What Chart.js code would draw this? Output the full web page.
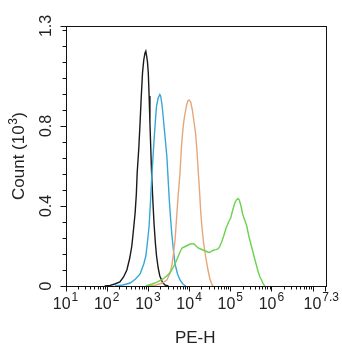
<!DOCTYPE html>
<html>
<head>
<meta charset="utf-8">
<script src="https://cdn.jsdelivr.net/npm/chart.js@4/dist/chart.umd.min.js"></script>
<style>
html,body{margin:0;padding:0;background:#fff;}
#wrap{width:342px;height:350px;}
</style>
</head>
<body>
<div id="wrap"><canvas id="c" width="342" height="350"></canvas></div>
<script>
// x values are log10(PE-H), y values are counts in 10^3
const blackX = [1.95,2.08,2.20,2.32,2.41,2.49,2.56,2.61,2.65,2.69,2.72,2.74,2.78,2.81,2.84,2.87,2.90,2.93,2.95,2.97,2.99,3.01,3.03,3.05,3.07,3.09,3.12,3.15,3.18,3.21,3.25,3.29,3.35,3.41,3.50];
const blackY = [0,0.003,0.01,0.02,0.045,0.08,0.14,0.20,0.28,0.365,0.46,0.565,0.69,0.815,0.95,1.066,1.13,1.165,1.174,1.15,1.12,1.066,0.95,0.815,0.69,0.565,0.43,0.31,0.22,0.15,0.09,0.05,0.02,0.005,0];

const blueX = [2.20,2.40,2.57,2.70,2.81,2.90,2.95,2.99,3.03,3.06,3.09,3.12,3.15,3.18,3.21,3.25,3.29,3.31,3.34,3.37,3.41,3.46,3.49,3.52,3.55,3.58,3.62,3.66,3.72,3.78,3.85,3.92];
const blueY = [0,0.005,0.015,0.035,0.06,0.11,0.15,0.22,0.30,0.41,0.53,0.63,0.73,0.82,0.90,0.94,0.957,0.95,0.91,0.85,0.76,0.65,0.54,0.43,0.34,0.26,0.18,0.11,0.06,0.03,0.01,0];

const orangeX = [3.00,3.20,3.35,3.46,3.53,3.58,3.62,3.66,3.69,3.72,3.75,3.78,3.81,3.84,3.87,3.90,3.94,3.97,4.00,4.04,4.08,4.12,4.16,4.19,4.22,4.25,4.28,4.31,4.35,4.40,4.45,4.50,4.55,4.58];
const orangeY = [0,0.005,0.015,0.03,0.06,0.10,0.16,0.23,0.32,0.41,0.49,0.565,0.68,0.76,0.82,0.86,0.905,0.925,0.93,0.92,0.88,0.82,0.76,0.68,0.58,0.49,0.38,0.30,0.22,0.15,0.09,0.04,0.01,0];

const greenX = [2.95,3.10,3.21,3.33,3.46,3.55,3.62,3.68,3.74,3.79,3.83,3.88,3.93,3.98,4.03,4.08,4.12,4.17,4.22,4.28,4.34,4.40,4.45,4.50,4.55,4.60,4.65,4.70,4.74,4.79,4.84,4.90,4.96,5.01,5.06,5.11,5.15,5.19,5.22,5.26,5.30,5.35,5.40,5.45,5.50,5.55,5.60,5.64,5.68,5.72,5.76,5.80,5.84];
const greenY = [0,0.01,0.018,0.03,0.05,0.07,0.095,0.12,0.15,0.175,0.19,0.195,0.20,0.205,0.21,0.212,0.21,0.20,0.19,0.185,0.18,0.175,0.17,0.168,0.175,0.18,0.182,0.185,0.195,0.22,0.25,0.29,0.32,0.34,0.38,0.415,0.43,0.437,0.43,0.40,0.36,0.33,0.30,0.25,0.21,0.17,0.13,0.10,0.07,0.045,0.03,0.01,0];

// axis ticks
const xTickValues = [1,2,3,4,5,6,7.3];
const xTickExponents = ['1','2','3','4','5','6','7.3'];
const xMajorTicks = [1,2,3,4,5,6,7,7.3];
const yTickValues = [0,0.4,0.8,1.3];
const yTickLabels = ['0','0.4','0.8','1.3'];
const yMinorStep = 0.08;
const xTitle = 'PE-H';
const yTitleBase = 'Count (10';
const yTitleExp = '3';
const yTitleEnd = ')';

function pts(xs, ys){ return xs.map((x,i)=>({x:x,y:ys[i]})); }

const FONT = '"Liberation Sans", Arial, sans-serif';

const axesPlugin = {
  id:'axesPlugin',
  afterDraw(chart){
    const ctx = chart.ctx;
    const a = chart.chartArea;
    const xs = chart.scales.x, ys = chart.scales.y;
    ctx.save();
    ctx.strokeStyle = '#111';
    ctx.lineWidth = 1;
    // frame
    ctx.strokeRect(Math.round(a.left)+0.5, Math.round(a.top)+0.5, Math.round(a.right-a.left), Math.round(a.bottom-a.top));
    const by = Math.round(a.bottom)+0.5;
    const lx = Math.round(a.left)+0.5;
    ctx.beginPath();
    xMajorTicks.forEach(v=>{
      const px = Math.round(xs.getPixelForValue(v))+0.5;
      ctx.moveTo(px, by); ctx.lineTo(px, by+5);
    });
    for(let d=1; d<=7; d++){
      for(let k=2; k<=9; k++){
        const v = d + Math.log10(k);
        if(v >= 7.3) continue;
        const px = Math.round(xs.getPixelForValue(v))+0.5;
        ctx.moveTo(px, by); ctx.lineTo(px, by+3);
      }
    }
    for(let v=0; v<=1.29; v+=yMinorStep){
      const py = Math.round(ys.getPixelForValue(v))+0.5;
      ctx.moveTo(lx, py); ctx.lineTo(lx-4, py);
    }
    yTickValues.forEach(v=>{
      const py = Math.round(ys.getPixelForValue(v))+0.5;
      ctx.moveTo(lx, py); ctx.lineTo(lx-6, py);
    });
    ctx.stroke();

    ctx.fillStyle = '#222';
    const BF = '16px ' + FONT, EF = '12px ' + FONT;
    xTickValues.forEach((v,i)=>{
      const base = '10', exp = xTickExponents[i];
      ctx.font = BF;
      const wb = ctx.measureText(base).width;
      ctx.font = EF;
      const we = ctx.measureText(exp).width;
      let cx = xs.getPixelForValue(v);
      let left = cx - (wb+we+1)/2;
      if(left + wb + we + 1 > chart.width - 3) left = chart.width - 3 - (wb+we+1);
      ctx.textAlign = 'left'; ctx.textBaseline = 'alphabetic';
      ctx.font = BF;
      ctx.fillText(base, left, 309);
      ctx.font = EF;
      ctx.fillText(exp, left+wb+1, 301);
    });
    ctx.font = BF;
    yTickValues.forEach((v,i)=>{
      const py = ys.getPixelForValue(v);
      ctx.save();
      ctx.translate(51, py);
      ctx.rotate(-Math.PI/2);
      ctx.textAlign = 'center'; ctx.textBaseline = 'alphabetic';
      ctx.fillText(yTickLabels[i], 0, 0);
      ctx.restore();
    });
    ctx.font = '17px ' + FONT;
    ctx.textAlign = 'center'; ctx.textBaseline = 'alphabetic';
    ctx.fillText(xTitle, (a.left+a.right)/2, 343);
    ctx.save();
    const cy = (a.top+a.bottom)/2;
    ctx.translate(24, cy);
    ctx.rotate(-Math.PI/2);
    ctx.font = '17px ' + FONT;
    const w1 = ctx.measureText(yTitleBase).width;
    const w3 = ctx.measureText(yTitleEnd).width;
    ctx.font = '12px ' + FONT;
    const w2 = ctx.measureText(yTitleExp).width;
    const total = w1 + w2 + 1 + w3;
    let sx = -total/2;
    ctx.textAlign = 'left';
    ctx.font = '17px ' + FONT;
    ctx.fillText(yTitleBase, sx, 0);
    ctx.font = '12px ' + FONT;
    ctx.fillText(yTitleExp, sx + w1 + 0.5, -7);
    ctx.font = '17px ' + FONT;
    ctx.fillText(yTitleEnd, sx + w1 + w2 + 1, 0);
    ctx.restore();
    ctx.restore();
  }
};

const mk = (xs, ys, color) => ({
  data: pts(xs, ys), borderColor: color, borderWidth: 1.4,
  pointRadius: 0, fill: false, tension: 0
});

new Chart(document.getElementById('c'), {
  type: 'line',
  data: { datasets: [
    mk(greenX, greenY, '#6cd24e'),
    mk(orangeX, orangeY, '#e5a77a'),
    mk(blueX, blueY, '#3aa6d6'),
    mk(blackX, blackY, '#1a1a1a')
  ]},
  options: {
    responsive: false,
    devicePixelRatio: 1,
    animation: false,
    layout: { padding: { left: 65.5, right: 17, top: 26, bottom: 64 } },
    plugins: { legend: { display: false }, tooltip: { enabled: false } },
    scales: {
      x: { type: 'linear', min: 1, max: 7.3, display: false },
      y: { type: 'linear', min: 0, max: 1.3, display: false }
    }
  },
  plugins: [axesPlugin]
});
</script>
</body>
</html>
